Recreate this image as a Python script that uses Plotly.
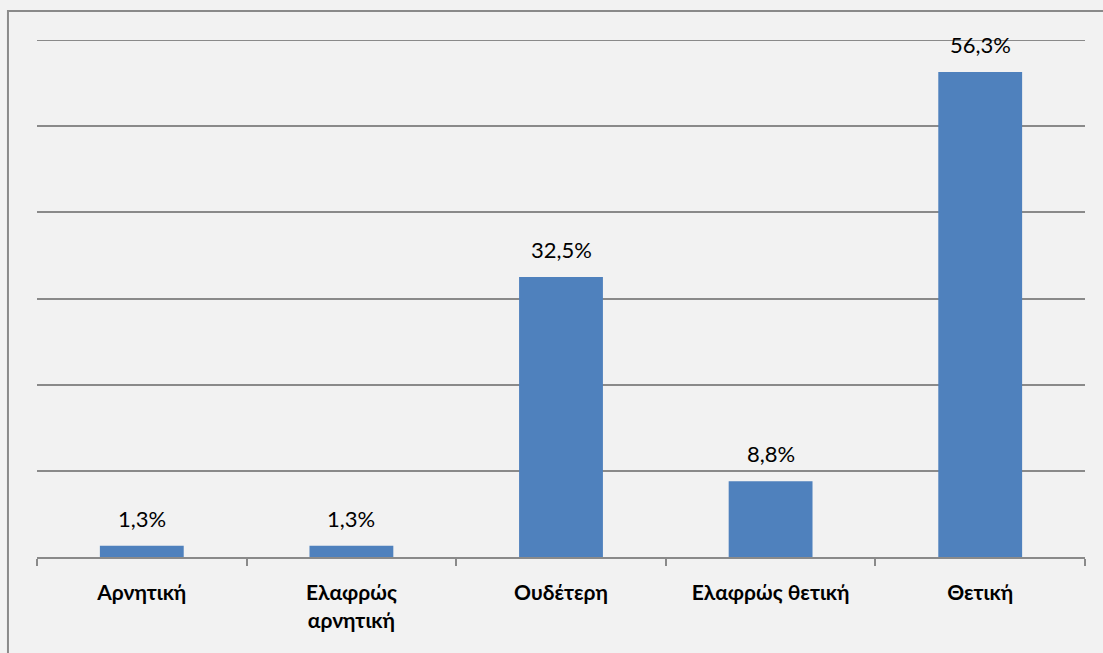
import plotly.graph_objects as go

categories = ['Αρνητική', 'Ελαφρώς<br>αρνητική', 'Ουδέτερη', 'Ελαφρώς θετική', 'Θετική']
values = [1.3, 1.3, 32.5, 8.8, 56.3]
labels = [f'{v:.1f}%'.replace('.', ',') for v in values]
y_max = 60

GRID = '#8a8a8a'

fig = go.Figure(go.Bar(
    x=categories, y=values, hoverinfo='x+y',
    marker=dict(color='#4f81bd', line=dict(width=0)), width=0.4,
))

# value labels sitting a little above each bar, Excel style
for cat, v, lab in zip(categories, values, labels):
    fig.add_annotation(x=cat, y=v, text=lab, showarrow=False, yanchor='bottom',
                       yshift=12, font=dict(size=22, color='black', family='Lato'))

fig.update_xaxes(
    tickson='boundaries', ticks='outside', ticklen=7, tickcolor=GRID, tickwidth=2,
    showline=True, linecolor=GRID, linewidth=2, ticklabelstandoff=16,
    tickfont=dict(size=21, color='black', family='Lato', weight='bold'),
)
fig.update_yaxes(
    range=[0, y_max], tick0=0, dtick=10, showticklabels=False, showgrid=True,
    gridcolor=GRID, gridwidth=2, zeroline=False, showline=False,
)
# plotly drops the gridline on the top edge, so draw it
fig.add_hline(y=y_max, line=dict(color=GRID, width=2))

# outer chart border
fig.add_shape(type='rect', xref='paper', yref='paper',
              x0=-0.0277, x1=1.05, y0=-0.3, y1=1.056,
              line=dict(color=GRID, width=2), layer='below')

fig.layout.update(
    width=1103, height=653, margin=dict(l=37, r=18, t=40, b=96),
    paper_bgcolor='#f2f2f2', plot_bgcolor='#f2f2f2',
    font=dict(family='Lato', color='black'), showlegend=False,
)
fig.write_html('out.html', config={'displayModeBar': False},
               post_script="document.body.style.margin='0';")
